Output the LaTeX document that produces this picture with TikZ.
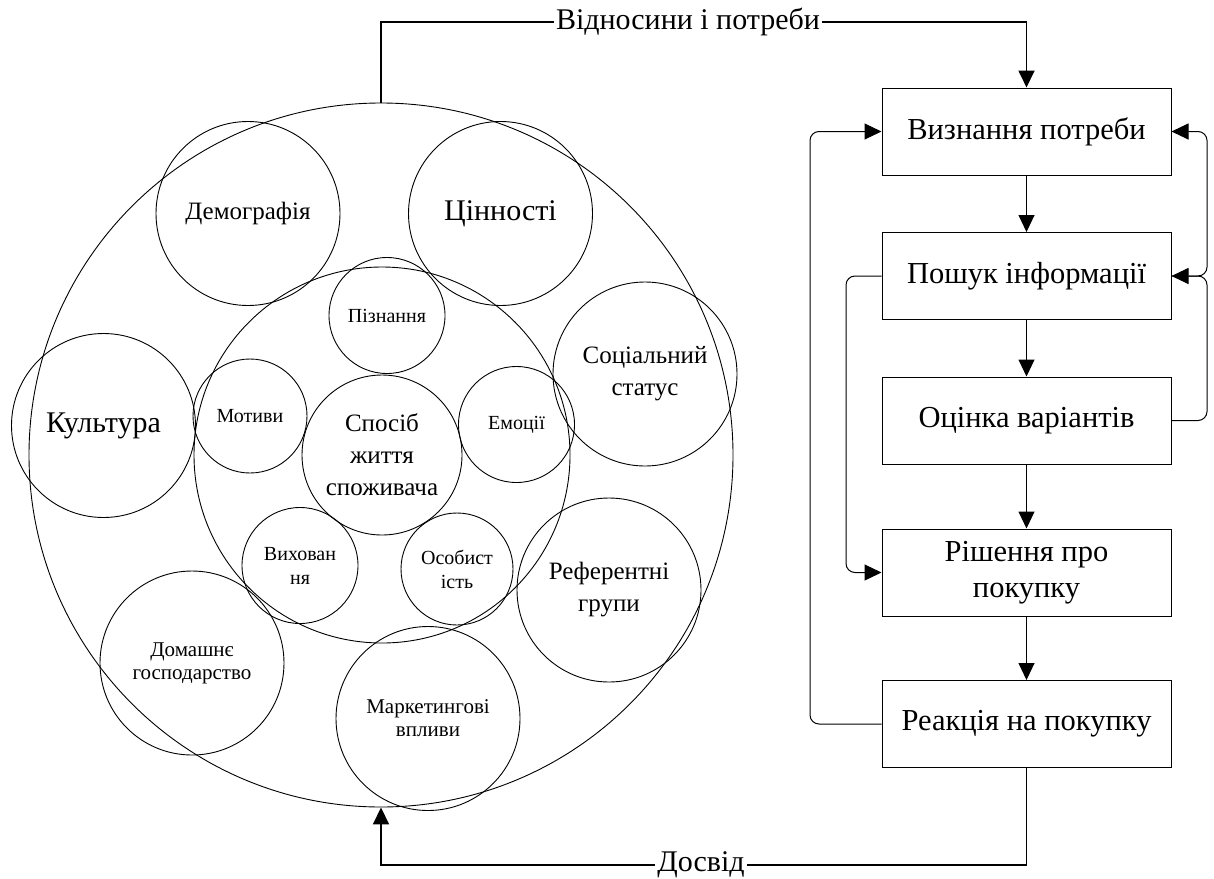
\documentclass[tikz,border=0pt]{standalone}
\usepackage{fontspec}
\setmainfont{LiberationSerif}[Extension=.ttf, UprightFont=*-Regular]
\usetikzlibrary{arrows.meta}
\begin{document}
\begin{tikzpicture}[x=1pt,y=-1pt,
  ring/.style={circle, draw, line width=0.9pt, inner sep=0pt, align=center},
  stage/.style={draw, line width=1pt, minimum width=289pt, minimum height=87pt,
    inner sep=0pt, align=center, font=\fontsize{30.5}{36}\selectfont},
  flow/.style={line width=1pt, -{Triangle[length=17pt,width=16pt]}},
  loop/.style={flow, rounded corners=9pt},
  main/.style={line width=1.8pt, -{Triangle[length=17pt,width=16pt]}},
  tag/.style={fill=white, inner sep=2pt, font=\fontsize{30}{36}\selectfont},
  big/.style={font=\fontsize{30}{36}\selectfont},
  mid/.style={font=\fontsize{25}{32}\selectfont},
  sml/.style={font=\fontsize{21}{23}\selectfont},
  tiny/.style={font=\fontsize{20}{24}\selectfont}]
\useasboundingbox (0,0) rectangle (1214,878);

% influence circles
\node[ring, minimum size=704pt] (outer) at (381,455) {};
\node[ring, minimum size=376pt] (inner) at (382,455) {};
\node[ring, big, minimum size=184pt] (val) at (500.5,213.5) {Цінності};
\node[ring, mid, minimum size=184pt] (dem) at (248,213.5) {Демографія};
\node[ring, big, minimum size=184pt] (cul) at (103.5,425.5) {Культура};
\node[ring, mid, minimum size=184pt] (soc) at (645,374) {Соціальний\\статус};
\node[ring, mid, minimum size=184pt] (ref) at (609,590) {Референтні\\групи};
\node[ring, sml, minimum size=184pt] (home) at (192,663) {Домашнє\\господарство};
\node[ring, sml, minimum size=184pt] (mkt) at (428,718.5) {Маркетингові\\впливи};
\node[ring, tiny, minimum size=116pt] (cog) at (387,315.5) {Пізнання};
\node[ring, tiny, minimum size=114pt] (mot) at (250,416) {Мотиви};
\node[ring, tiny, minimum size=116pt] (emo) at (516.5,424.5) {Емоції};
\node[ring, tiny, minimum size=116pt] (edu) at (300,565.5) {Вихован\\ня};
\node[ring, tiny, minimum size=112pt] (pers) at (457,569) {Особист\\ість};
\node[ring, mid, minimum size=160pt] (life) at (382,455) {Спосіб\\життя\\споживача};

% decision stages
\node[stage] (b1) at (1026.5,131.5) {Визнання потреби};
\node[stage] (b2) at (1026.5,276) {Пошук інформації};
\node[stage] (b3) at (1026.5,420.5) {Оцінка варіантів};
\node[stage] (b4) at (1026.5,572.5) {Рішення про\\покупку};
\node[stage] (b5) at (1026.5,724) {Реакція на покупку};

\draw[flow] (b1) -- (b2);
\draw[flow] (b2) -- (b3);
\draw[flow] (b3) -- (b4);
\draw[flow] (b4) -- (b5);

% feedback loops
\coordinate (lfar) at (810,0);
\coordinate (lnear) at (846,0);
\coordinate (rside) at (1207,0);
\draw[loop] (b5.west) -- (b5.west -| lfar) -- (b1.west -| lfar) -- (b1.west);
\draw[loop] (b2.west) -- (b2.west -| lnear) -- (b4.west -| lnear) -- (b4.west);
\draw[loop] (b3.east) -- (b3.east -| rside) -- (b2.east -| rside) -- (b2.east);
\draw[loop] (b2.east) -- (b2.east -| rside) -- (b1.east -| rside) -- (b1.east);

% links between the two parts
\coordinate (topy) at (0,22);
\coordinate (boty) at (0,865);
\draw[main] (outer.north) -- (outer.north |- topy) -- (b1.north |- topy) -- (b1.north);
\draw[main] (b5.south) -- (b5.south |- boty) -- (outer.south |- boty) -- (outer.south);
\node[tag] (rel) at (688,22) {Відносини і потреби};
\node[tag] (exp) at (701,865) {Досвід};
\end{tikzpicture}
\end{document}
